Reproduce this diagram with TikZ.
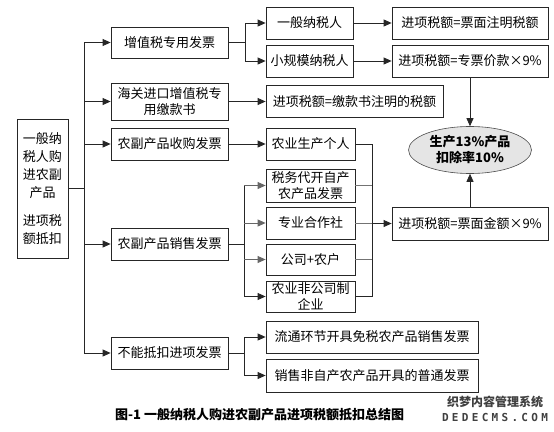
\documentclass[tikz,border=0pt]{standalone}
\usepackage{fontspec}
\setmainfont{Noto Sans CJK SC}
\newfontfamily\wmmono[LetterSpace=30]{DejaVu Sans Mono}
\usetikzlibrary{arrows.meta,shapes.geometric}
\begin{document}
\begin{tikzpicture}[x=1pt,y=-1pt,
  box/.style={draw=black!85, line width=0.8pt, minimum height=32pt, inner sep=1pt,
    align=center, font=\fontsize{13}{16}\selectfont},
  arr/.style={-{Triangle[length=8pt,width=7pt]}, line width=0.8pt, draw=black!85},
  ln/.style={line width=0.8pt, draw=black!85},
  gln/.style={line width=0.8pt, draw=black!55}]
\useasboundingbox (0,0) rectangle (554,431);
% left box
\node[box, minimum width=51pt, minimum height=139pt, font=\fontsize{13}{18}\selectfont] (L) at (42.5,188.5)
  {一般纳\\税人购\\进农副\\产品\\[10pt]进项税\\额抵扣};
% level 2
\node[box, minimum width=117pt, minimum height=31pt] (A) at (169.5,42.5) {增值税专用发票};
\node[box, minimum width=117pt, minimum height=37pt] (B) at (169.5,101.5) {海关进口增值税专\\用缴款书};
\node[box, minimum width=117pt] (C) at (169.5,144) {农副产品收购发票};
\node[box, minimum width=117pt] (D) at (169.5,244) {农副产品销售发票};
\node[box, minimum width=117pt] (E) at (169.5,353) {不能抵扣进项发票};
% level 3
\node[box, minimum width=87pt] (A1) at (309.5,23) {一般纳税人};
\node[box, minimum width=87pt] (A2) at (309.5,61) {小规模纳税人};
\node[box, minimum width=177pt] (B1) at (354.5,101.5) {进项税额=缴款书注明的税额};
\node[box, minimum width=89pt] (C1) at (310.5,144) {农业生产个人};
\node[box, minimum width=89pt, minimum height=33pt] (D1) at (310.5,185.5) {税务代开自产\\农产品发票};
\node[box, minimum width=89pt] (D2) at (310.5,223) {专业合作社};
\node[box, minimum width=89pt, minimum height=31pt] (D3) at (310.5,259.5) {公司+农户};
\node[box, minimum width=89pt, minimum height=31pt] (D4) at (310.5,296.5) {农业非公司制\\企业};
\node[box, minimum width=212pt] (E1) at (372,337) {流通环节开具免税农产品销售发票};
\node[box, minimum width=212pt, minimum height=33pt] (E2) at (372,375.5) {销售非自产农产品开具的普通发票};
% level 4
\node[box, minimum width=156pt] (R1) at (470,23) {进项税额=票面注明税额};
\node[box, minimum width=156pt] (R2) at (470,61) {进项税额=专票价款×9\%};
\node[box, minimum width=156pt, minimum height=33pt] (R3) at (470,223.5) {进项税额=票面金额×9\%};
\node[ellipse, draw=black!70, line width=0.6pt, fill=black!10, minimum width=123pt, minimum height=47pt,
  inner sep=0pt, align=center, font=\bfseries\fontsize{13}{16}\selectfont] (P) at (470,150)
  {生产13\%产品\\扣除率10\%};
% caption and watermark
\node[anchor=west, inner sep=0pt, font=\bfseries\fontsize{13}{15}\selectfont] (cap) at (115,415)
  {图-1 一般纳税人购进农副产品进项税额抵扣总结图};
\node[inner sep=0pt, text=black!75, font=\bfseries\fontsize{12}{12}\selectfont] (wm1) at (495,402) {织梦内容管理系统};
\node[inner sep=0pt, text=black!75, font=\wmmono\bfseries\fontsize{11}{11}\selectfont] (wm2) at (495,417) {DEDECMS.COM};
% trunk
\coordinate (t) at (84,0);
\draw[ln] (L.east) -- (L.east -| t);
\draw[ln] (A.west -| t) -- (E.west -| t);
\foreach \n in {A,B,C,D,E} \draw[arr] (\n.west -| t) -- (\n.west);
% VAT invoice branch
\coordinate (ba) at (245,0);
\draw[ln] (A.east) -- (A.east -| ba);
\draw[ln] (A1.west -| ba) -- (A2.west -| ba);
\draw[arr] (A1.west -| ba) -- (A1.west);
\draw[arr] (A2.west -| ba) -- (A2.west);
\draw[arr] (B.east) -- (B1.west);
\draw[arr] (C.east) -- (C1.west);
% sales invoice branch
\coordinate (bd) at (244,0);
\draw[ln] (D.east) -- (D.east -| bd);
\draw[ln] (D1.west -| bd) -- (D4.west -| bd);
\draw[arr, draw=black!60] (D1.west -| bd) -- (D1.west);
\draw[arr, draw=black!60] (D2.west -| bd) -- (D2.west);
\draw[arr, draw=black!60] (D3.west -| bd) -- (D3.west);
\draw[arr] (D4.west -| bd) -- (D4.west);
% non-deductible branch
\draw[ln] (E.east) -- (E.east -| bd);
\draw[ln] (E1.west -| bd) -- (E2.west -| bd);
\draw[arr] (E1.west -| bd) -- (E1.west);
\draw[arr] (E2.west -| bd) -- (E2.west);
% right column
\draw[arr] (A1) -- (R1);
\draw[arr] (A2) -- (R2);
\draw[arr] (R2.south) -- (P.north);
\draw[arr] (R3.north) -- (P.south);
\coordinate (col) at (372,0);
\draw[ln] (C1.east) -- (C1.east -| col) -- (D4.east -| col) -- (D4.east);
\draw[gln] (D1.east) -- (D1.east -| col);
\draw[gln] (D2.east) -- (D2.east -| col);
\draw[gln] (D3.east) -- (D3.east -| col);
\draw[arr] (R3.west -| col) -- (R3.west);
\end{tikzpicture}
\end{document}
